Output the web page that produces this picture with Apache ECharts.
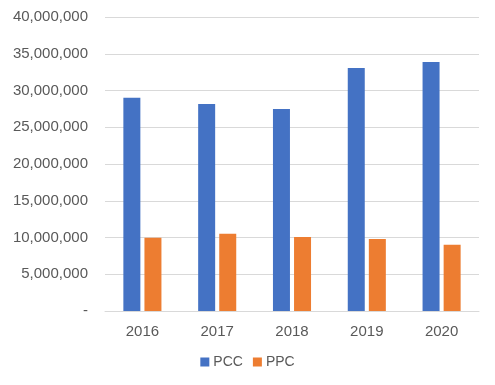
<!DOCTYPE html>
<html><head><meta charset="utf-8">
<script src="https://cdn.jsdelivr.net/npm/echarts@6/dist/echarts.min.js"></script>
<style>html,body{margin:0;padding:0;background:#fff}#c{width:495px;height:385px}</style>
</head><body><div id="c"></div>
<script>
var categories = ['2016','2017','2018','2019','2020'];
var pcc = [29000000, 28150000, 27480000, 33060000, 33880000];
var ppc = [9950000, 10520000, 10070000, 9800000, 9020000];
var seriesNames = ['PCC','PPC'];

var chart = echarts.init(document.getElementById('c'));
var font = 'Liberation Sans';
chart.setOption({
  animation: false,
  grid: {left: 105, right: 16, top: 17, bottom: 74},
  legend: {
    bottom: 11, left: 'center',
    itemWidth: 9, itemHeight: 9, itemGap: 10,
    icon: 'rect',
    textStyle: {color: '#595959', fontSize: 14, fontFamily: font, padding: [0,0,0,-1]},
    data: seriesNames
  },
  xAxis: {
    type: 'category', data: categories,
    axisLine: {lineStyle: {color: '#d9d9d9'}},
    axisTick: {show: false},
    axisLabel: {color: '#595959', fontSize: 15, fontFamily: font, margin: 13}
  },
  yAxis: {
    type: 'value', min: 0, max: 40000000, interval: 5000000,
    axisLine: {show: false}, axisTick: {show: false},
    splitLine: {lineStyle: {color: '#d9d9d9'}},
    axisLabel: {
      color: '#595959', fontSize: 15, fontFamily: font, margin: 17,
      formatter: function (v) { return v === 0 ? '-' : v.toLocaleString('en-US'); }
    }
  },
  series: [
    {name: seriesNames[0], type: 'bar', data: pcc, barWidth: 17, barGap: '24%', itemStyle: {color: '#4472C4'}},
    {name: seriesNames[1], type: 'bar', data: ppc, barWidth: 17, barGap: '24%', itemStyle: {color: '#ED7D31'}}
  ]
});
</script></body></html>
